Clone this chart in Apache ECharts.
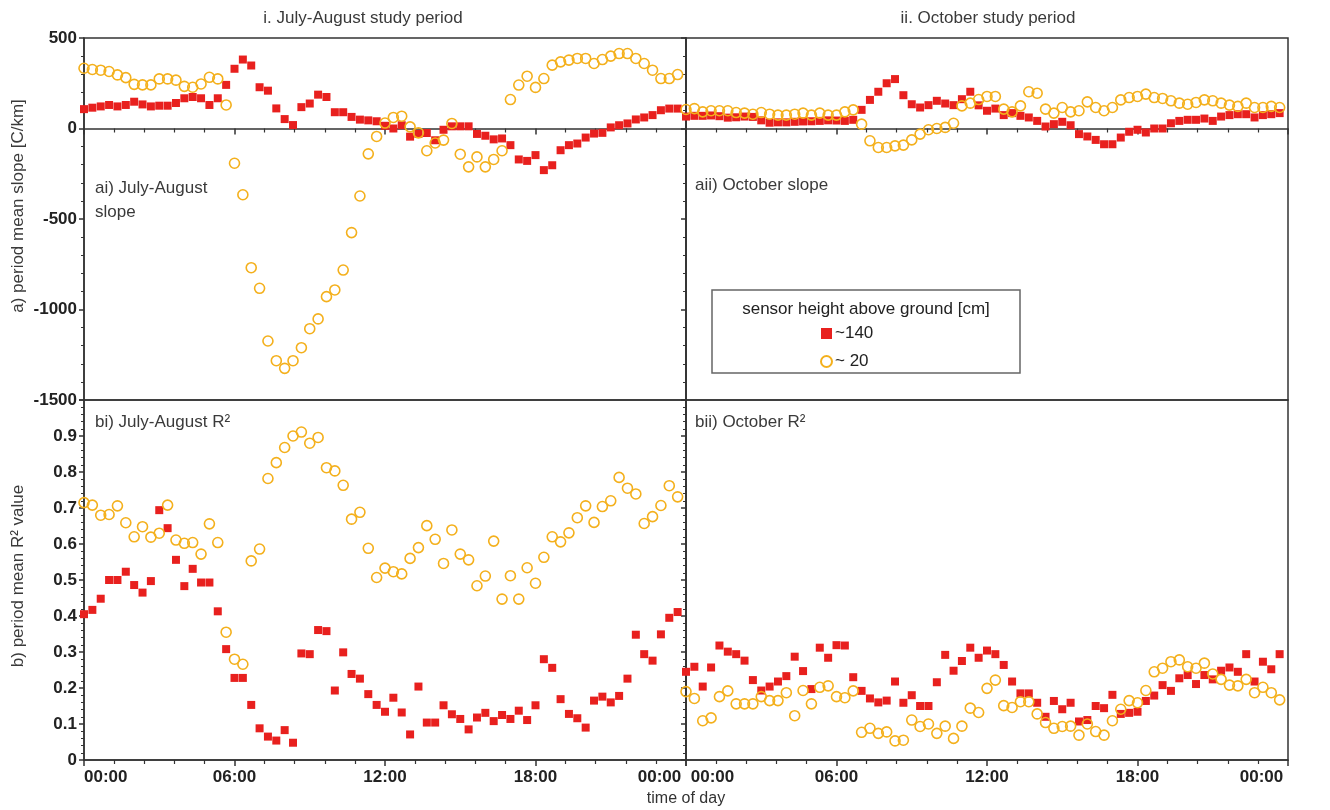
<!DOCTYPE html>
<html>
<head>
<meta charset="utf-8">
<script src="https://cdn.jsdelivr.net/npm/echarts@6/dist/echarts.min.js"></script>
<style>
html,body{margin:0;padding:0;background:#fff;}
#chart{width:1330px;height:810px;}
</style>
</head>
<body>
<div id="chart"></div>
<script>
// ---- data ----
const TIMES = ["00:00","00:20","00:40","01:00","01:20","01:40","02:00","02:20","02:40","03:00","03:20","03:40",
"04:00","04:20","04:40","05:00","05:20","05:40","06:00","06:20","06:40","07:00","07:20","07:40",
"08:00","08:20","08:40","09:00","09:20","09:40","10:00","10:20","10:40","11:00","11:20","11:40",
"12:00","12:20","12:40","13:00","13:20","13:40","14:00","14:20","14:40","15:00","15:20","15:40",
"16:00","16:20","16:40","17:00","17:20","17:40","18:00","18:20","18:40","19:00","19:20","19:40",
"20:00","20:20","20:40","21:00","21:20","21:40","22:00","22:20","22:40","23:00","23:20","23:40"];

const X_TICK_LABELS = ["00:00","06:00","12:00","18:00","00:00"];

// a) slope [C/km], July-August
const JA_SLOPE_140 = [107,115,122,130,122,130,148,133,122,126,126,141,167,174,167,130,167,241,330,381,348,228,209,111,52,19,118,138,187,174,90,90,64,49,45,40,15,0,18,-45,-30,-25,-65,-7,12,12,12,-30,-40,-60,-55,-92,-171,-179,-147,-230,-203,-120,-92,-83,-50,-28,-24,6,18,28,50,61,74,101,110,110];
const JA_SLOPE_20 = [333,326,322,315,296,281,244,241,241,274,274,267,233,228,246,283,274,130,-192,-366,-769,-883,-1174,-1283,-1325,-1283,-1211,-1106,-1052,-929,-892,-782,-575,-373,-140,-44,30,61,68,9,-24,-123,-80,-64,28,-142,-212,-157,-212,-171,-123,160,240,289,227,276,350,368,378,387,387,359,381,400,414,414,387,359,322,276,276,298];
// a) slope [C/km], October
const OCT_SLOPE_140 = [66,70,70,72,68,60,62,66,64,45,32,34,34,37,39,40,42,45,44,42,48,103,158,203,250,273,184,134,116,129,153,138,129,162,203,128,98,110,74,85,70,61,42,11,24,37,18,-31,-44,-63,-87,-87,-50,-18,-7,-22,0,0,29,42,48,48,55,42,66,74,79,79,61,74,79,85];
const OCT_SLOPE_20 = [105,110,92,98,98,98,88,85,79,88,79,74,74,79,85,74,85,74,74,92,103,24,-68,-105,-105,-96,-92,-63,-31,-7,0,6,29,125,140,160,177,177,107,92,125,203,195,107,85,116,92,98,147,116,98,116,158,171,177,190,171,166,153,140,134,144,158,153,140,129,122,140,116,116,122,116];
// b) R2, July-August
const JA_R2_140 = [0.405,0.417,0.448,0.5,0.5,0.523,0.486,0.465,0.497,0.694,0.644,0.556,0.483,0.531,0.493,0.493,0.413,0.308,0.228,0.228,0.153,0.088,0.065,0.054,0.083,0.048,0.296,0.294,0.361,0.358,0.193,0.299,0.239,0.226,0.183,0.153,0.134,0.173,0.132,0.071,0.204,0.104,0.104,0.152,0.127,0.114,0.085,0.118,0.131,0.108,0.125,0.114,0.137,0.111,0.152,0.28,0.256,0.169,0.128,0.116,0.09,0.165,0.176,0.16,0.178,0.226,0.348,0.294,0.276,0.349,0.395,0.411];
const JA_R2_20 = [0.715,0.708,0.68,0.682,0.706,0.659,0.62,0.648,0.619,0.63,0.708,0.611,0.602,0.604,0.572,0.656,0.604,0.355,0.28,0.266,0.553,0.586,0.782,0.826,0.868,0.9,0.911,0.88,0.896,0.812,0.803,0.763,0.669,0.688,0.588,0.507,0.533,0.523,0.517,0.56,0.59,0.651,0.613,0.546,0.639,0.572,0.556,0.484,0.511,0.608,0.447,0.512,0.447,0.534,0.491,0.563,0.62,0.606,0.631,0.673,0.706,0.66,0.704,0.72,0.785,0.755,0.739,0.657,0.676,0.707,0.762,0.731];
// b) R2, October
const OCT_R2_140 = [0.245,0.259,0.204,0.257,0.318,0.301,0.294,0.276,0.222,0.193,0.204,0.218,0.233,0.287,0.247,0.197,0.312,0.284,0.319,0.318,0.23,0.192,0.171,0.16,0.165,0.218,0.159,0.18,0.15,0.15,0.216,0.292,0.248,0.275,0.312,0.284,0.304,0.294,0.264,0.218,0.185,0.185,0.159,0.12,0.164,0.141,0.159,0.107,0.111,0.15,0.144,0.181,0.128,0.131,0.134,0.164,0.179,0.208,0.192,0.227,0.236,0.211,0.236,0.224,0.248,0.257,0.245,0.294,0.218,0.273,0.252,0.294];
const OCT_R2_20 = [0.19,0.171,0.109,0.117,0.176,0.192,0.156,0.156,0.156,0.176,0.165,0.165,0.187,0.123,0.193,0.156,0.202,0.206,0.176,0.173,0.192,0.077,0.088,0.074,0.078,0.053,0.055,0.111,0.093,0.1,0.074,0.094,0.06,0.094,0.144,0.132,0.199,0.222,0.151,0.146,0.162,0.162,0.128,0.104,0.088,0.093,0.094,0.069,0.1,0.079,0.069,0.109,0.141,0.165,0.159,0.193,0.245,0.255,0.273,0.278,0.259,0.255,0.269,0.239,0.224,0.208,0.206,0.224,0.187,0.202,0.187,0.167];

const NAME_140 = "~140";
const NAME_20 = "~ 20";

// ---- build ----
const HOURS = TIMES.map(s => { const p = s.split(':'); return Number(p[0]) + Number(p[1]) / 60; });
const pairs = vals => HOURS.map((h, i) => [h, vals[i]]);

const FONT = '"Liberation Sans", Arial, Helvetica, sans-serif';
const INK = '#222';
const RED = '#e8201e';
const YEL = '#f4b01c';

const grids = [
  {left: 84, top: 38, width: 602, height: 362},
  {left: 686, top: 38, width: 602, height: 362},
  {left: 84, top: 400, width: 602, height: 360},
  {left: 686, top: 400, width: 602, height: 360}
].map(g => Object.assign(g, {show: true, borderColor: '#333', borderWidth: 1.5, backgroundColor: 'transparent'}));

function xAxis(gi, showLabels) {
  return {
    type: 'value', gridIndex: gi, min: 0, max: 24, interval: 6,
    axisLine: {show: true, onZero: true, lineStyle: {color: '#333', width: 1.5}},
    axisTick: {show: true, length: 6, lineStyle: {color: '#333', width: 1.5}},
    minorTick: {show: true, splitNumber: 5, length: 4, lineStyle: {color: '#333', width: 1.2}},
    splitLine: {show: false},
    axisLabel: {
      show: showLabels, margin: 9, color: INK, fontFamily: FONT, fontSize: 17, fontWeight: 'bold',
      alignMinLabel: 'left', alignMaxLabel: 'right',
      formatter: v => {
        const s = X_TICK_LABELS[Math.round(v / 6)];
        if (v === 24) return s + ' ';
        if (v === 0 && gi === 3) return ' ' + s;
        return s;
      }
    }
  };
}
function yAxis(gi, slope, showLabels) {
  return {
    type: 'value', gridIndex: gi,
    min: slope ? -1500 : 0, max: slope ? 500 : 1, interval: slope ? 500 : 0.1,
    axisLine: {show: true, onZero: false, lineStyle: {color: '#333', width: 1.5}},
    axisTick: {show: true, length: 5, lineStyle: {color: '#333', width: 1.5}},
    minorTick: {show: true, splitNumber: 5, length: 3, lineStyle: {color: '#333', width: 1}},
    splitLine: {show: false},
    axisLabel: {
      show: showLabels, margin: 7, color: INK, fontFamily: FONT, fontSize: 17, fontWeight: 'bold',
      showMaxLabel: slope ? true : false,
      formatter: v => slope ? String(v) : (v === 0 ? '0' : v.toFixed(1))
    }
  };
}

function redSeries(name, gi, vals) {
  return {
    name: name, type: 'scatter', xAxisIndex: gi, yAxisIndex: gi,
    symbol: 'rect', symbolSize: 8,
    itemStyle: {color: RED, opacity: 1},
    data: pairs(vals), z: 2
  };
}
function yelSeries(name, gi, vals) {
  return {
    name: name, type: 'scatter', xAxisIndex: gi, yAxisIndex: gi,
    symbol: 'circle', symbolSize: 10,
    itemStyle: {color: 'rgba(255,255,255,0)', borderColor: YEL, borderWidth: 1.6, opacity: 1},
    data: pairs(vals), z: 3
  };
}

const textStyle = (extra) => Object.assign({fill: '#3a3a3a', font: '17px ' + FONT}, extra);

const option = {
  animation: false,
  backgroundColor: '#fff',
  grid: grids,
  xAxis: [xAxis(0, false), xAxis(1, false), xAxis(2, true), xAxis(3, true)],
  yAxis: [yAxis(0, true, true), yAxis(1, true, false), yAxis(2, false, true), yAxis(3, false, false)],
  legend: {
    orient: 'vertical', left: 815, top: 320, itemGap: 11,
    itemWidth: 11, itemHeight: 11, z: 10,
    textStyle: {color: INK, fontFamily: FONT, fontSize: 17, padding: [0, 0, 0, -2]},
    data: [{name: NAME_140, icon: 'rect'}, {name: NAME_20, icon: 'circle'}]
  },
  series: [
    redSeries(NAME_140, 0, JA_SLOPE_140), yelSeries(NAME_20, 0, JA_SLOPE_20),
    redSeries(NAME_140, 1, OCT_SLOPE_140), yelSeries(NAME_20, 1, OCT_SLOPE_20),
    redSeries(NAME_140, 2, JA_R2_140), yelSeries(NAME_20, 2, JA_R2_20),
    redSeries(NAME_140, 3, OCT_R2_140), yelSeries(NAME_20, 3, OCT_R2_20)
  ],
  graphic: [
    {type: 'text', style: textStyle({text: 'i. July-August study period', x: 363, y: 18, align: 'center', verticalAlign: 'middle'})},
    {type: 'text', style: textStyle({text: 'ii. October study period', x: 988, y: 18, align: 'center', verticalAlign: 'middle'})},
    {type: 'text', style: textStyle({text: 'ai) July-August\nslope', x: 95, y: 176, lineHeight: 24})},
    {type: 'text', style: textStyle({text: 'aii) October slope', x: 695, y: 177})},
    {type: 'text', style: textStyle({text: 'bi) July-August R²', x: 95, y: 414})},
    {type: 'text', style: textStyle({text: 'bii) October R²', x: 695, y: 414})},
    {type: 'text', style: textStyle({text: 'time of day', x: 686, y: 799, align: 'center', verticalAlign: 'middle', font: '16px ' + FONT, fill: '#333'})},
    {type: 'text', x: 18, y: 206, rotation: Math.PI / 2,
      style: textStyle({text: 'a) period mean slope [C/km]', align: 'center', verticalAlign: 'middle', font: '17px ' + FONT})},
    {type: 'text', x: 18, y: 576, rotation: Math.PI / 2,
      style: textStyle({text: 'b) period mean R² value', align: 'center', verticalAlign: 'middle', font: '17px ' + FONT})},
    {type: 'rect', z: 5, shape: {x: 712, y: 290, width: 308, height: 83},
      style: {fill: '#fff', stroke: '#666', lineWidth: 1.5}},
    {type: 'text', z: 6, style: textStyle({text: 'sensor height above ground [cm]', x: 866, y: 309, align: 'center', verticalAlign: 'middle', fill: INK})}
  ]
};

const chart = echarts.init(document.getElementById('chart'), null, {renderer: 'canvas'});
chart.setOption(option);
</script>
</body>
</html>
